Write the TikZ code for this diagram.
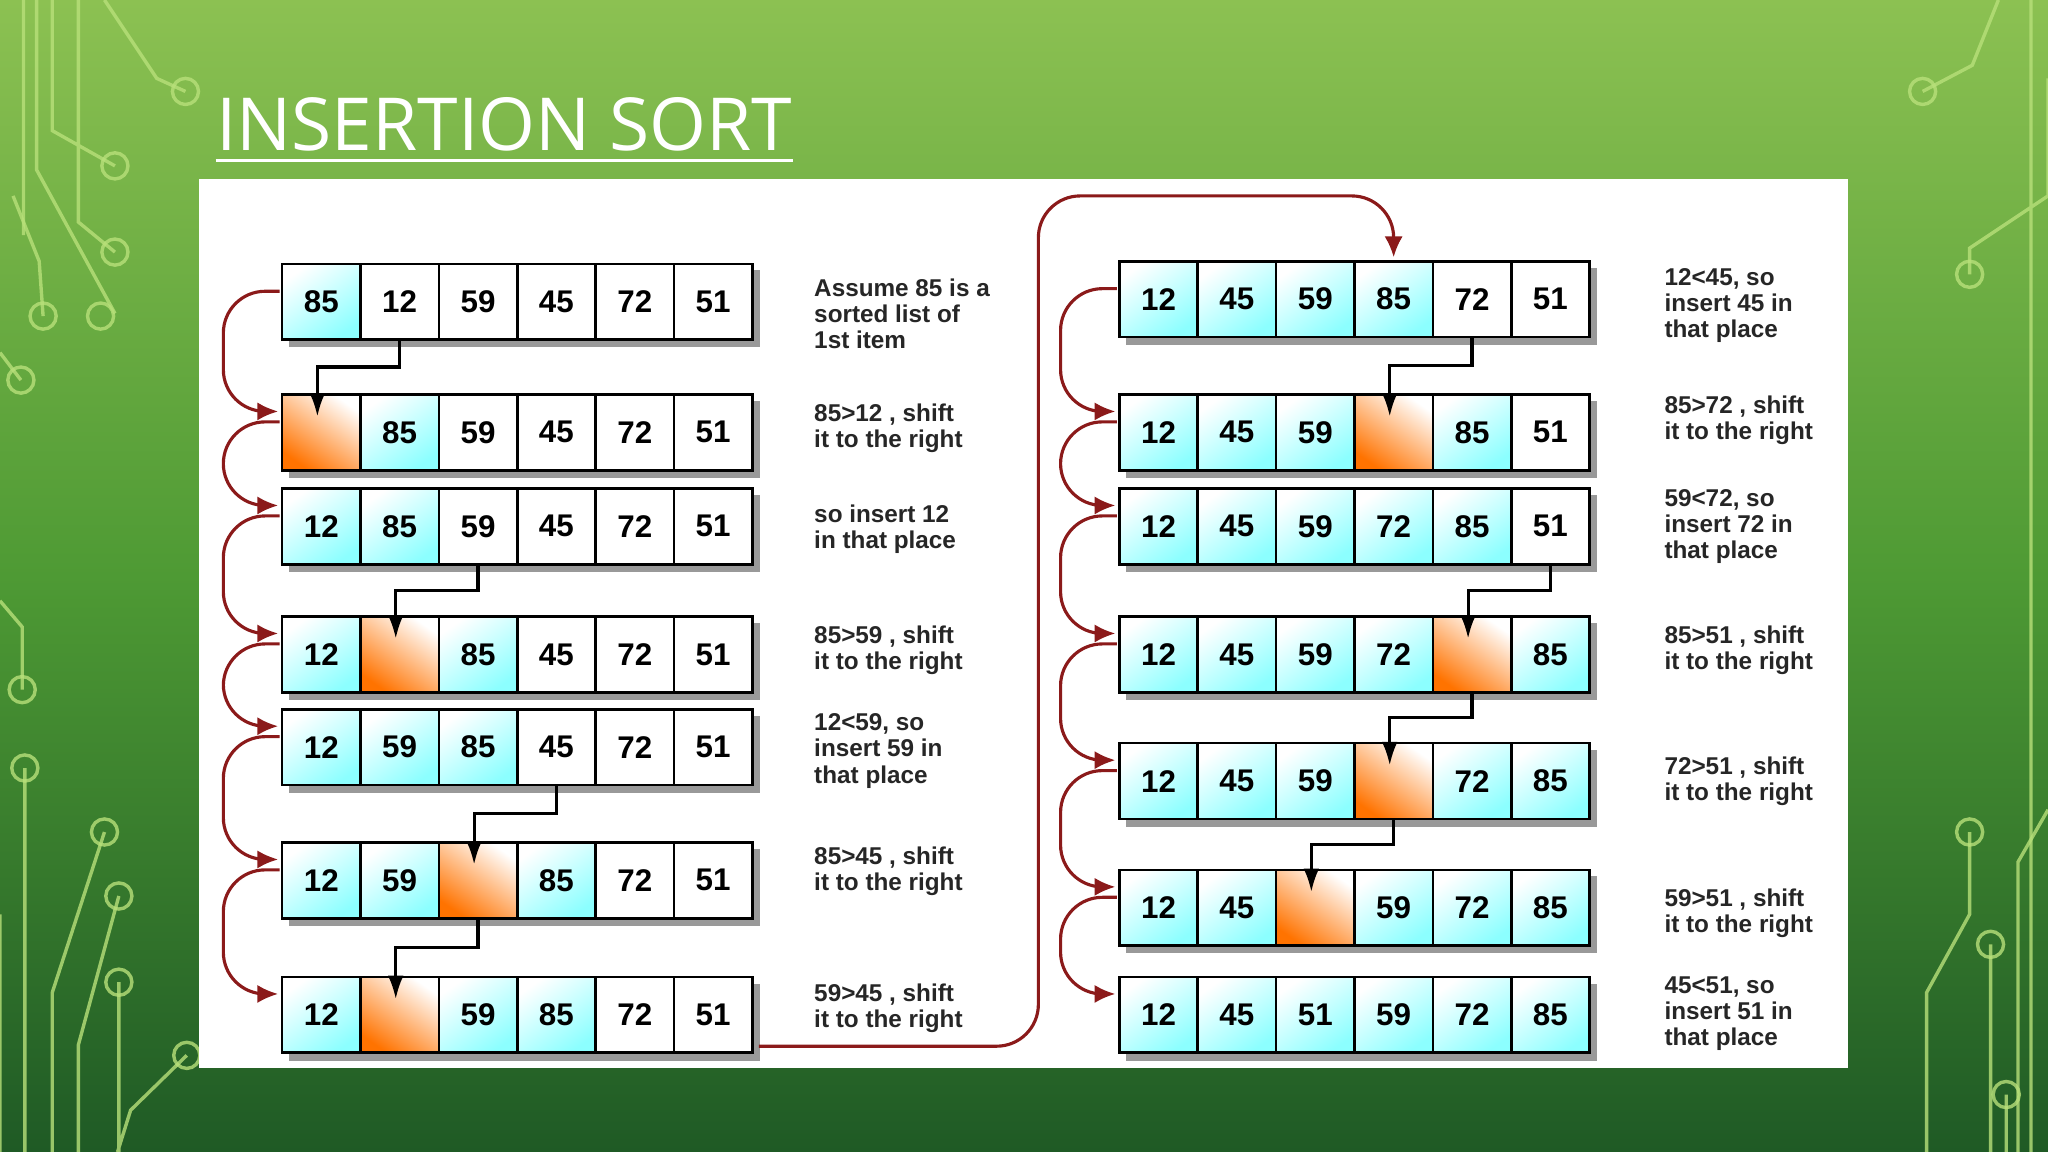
\documentclass[tikz,border=0pt]{standalone}
\usepackage{fontspec}
\setmainfont{Liberation Sans}
\newfontfamily\titlefont{Open Sans}
\usetikzlibrary{calc,arrows.meta}
\definecolor{darkred}{HTML}{8B1A1A}
\definecolor{circ}{HTML}{B8E07A}
\definecolor{bgtop}{HTML}{8CC152}
\definecolor{bgmid}{HTML}{4E9A34}
\definecolor{bgbot}{HTML}{1F5A25}
\tikzset{
  cell/.style={draw=black, line width=1pt, minimum width=30pt, minimum height=29pt, inner sep=0pt, font=\bfseries\fontsize{12}{14}\selectfont},
  w/.style={fill=white},
  c/.style={top color=white, bottom color=cyan!45, shading angle=35},
  h/.style={top color=white, bottom color=orange!90!red, shading angle=-35},
  lbl/.style={anchor=west, align=left, font=\bfseries\fontsize{9.3}{10}\selectfont, text=black!85, inner sep=0pt},
  redarr/.style={draw=darkred, line width=1.2pt, -{Latex[length=8pt,width=7pt]}, rounded corners=16pt},
  blkarr/.style={draw=black, line width=1.2pt, -{Latex[length=9pt,width=6pt]}},
  ckt/.style={draw=circ, line width=1.3pt, opacity=.8},
}
\newcommand\mkrow[4]{%
  \fill[black!40] (#2+5,#3-24) rectangle (#2+366,#3+35);
  \foreach [count=\i] \t/\v in {#4} {\node[cell,\t] (#1-\i) at (#2+30+60*\i-60,#3) {\v};}
}
\begin{document}
\begin{tikzpicture}[x=0.5pt,y=-0.5pt]
\useasboundingbox (0,0) rectangle (1568,882);
\shade[top color=bgtop, bottom color=bgbot, middle color=bgmid] (0,0) rectangle (1568,882);
% circuit lines
\draw[ckt] (18,0) -- (18,180) (28,0) -- (28,130) -- (88,240);
\draw[ckt] (80,0) -- (120,60) -- (142,70) (40,0) -- (40,100) -- (88,127) (10,150) -- (30,200) -- (33,242) (60,0)--(60,170)--(88,193) (0,270)--(16,291);
\draw[ckt] (0,460) -- (17,480) -- (17,528) (19,588) -- (19,882) (80,637) -- (40,760) -- (40,882) (91,686) -- (60,800) -- (60,882) (91,752) -- (91,882) (143,808) -- (100,850) -- (90,882) (0,700)--(0,882);
\foreach \p in {(142,70),(88,127),(88,193),(77,242),(33,242),(16,291),(17,528),(19,588),(80,637),(91,686),(91,752),(143,808)} \draw[ckt,fill=none] \p circle (10);
\draw[ckt] (1530,0) -- (1510,50) -- (1472,70) (1568,60) -- (1568,150) -- (1508,190) -- (1508,210) (1555,0)--(1555,882);
\draw[ckt] (1508,637) -- (1508,700) -- (1475,760) -- (1475,882) (1524,723) -- (1524,882) (1536,838) -- (1536,882) (1568,620)--(1545,660)--(1545,882);
\foreach \p in {(1472,70),(1508,210),(1508,637),(1524,723),(1536,838)} \draw[ckt,fill=none] \p circle (10);
% title
\node[anchor=base west, inner sep=0pt, text=white, font=\titlefont\fontsize{28}{30}\selectfont] (title) at (165,115) {INSERTION SORT};
\draw[white, line width=1pt] ($(title.base west)+(0,8)$) -- ($(title.base east)+(0,8)$);
% panel
\fill[white] (152,137) rectangle (1415,818);
% left column
\mkrow{La}{216}{231}{c/85,w/12,w/59,w/45,w/72,w/51}
\mkrow{Lb}{216}{331}{h/,c/85,w/59,w/45,w/72,w/51}
\mkrow{Lc}{216}{403}{c/12,c/85,w/59,w/45,w/72,w/51}
\mkrow{Ld}{216}{501}{c/12,h/,c/85,w/45,w/72,w/51}
\mkrow{Le}{216}{572}{c/12,c/59,c/85,w/45,w/72,w/51}
\mkrow{Lf}{216}{674}{c/12,c/59,h/,c/85,w/72,w/51}
\mkrow{Lg}{216}{777}{c/12,h/,c/59,c/85,w/72,w/51}
% right column
\mkrow{Ra}{857}{229}{c/12,c/45,c/59,c/85,w/72,w/51}
\mkrow{Rb}{857}{331}{c/12,c/45,c/59,h/,c/85,w/51}
\mkrow{Rc}{857}{403}{c/12,c/45,c/59,c/72,c/85,w/51}
\mkrow{Rd}{857}{501}{c/12,c/45,c/59,c/72,h/,c/85}
\mkrow{Re}{857}{598}{c/12,c/45,c/59,h/,c/72,c/85}
\mkrow{Rf}{857}{695}{c/12,c/45,h/,c/59,c/72,c/85}
\mkrow{Rg}{857}{777}{c/12,c/45,c/51,c/59,c/72,c/85}
% black arrows
\newcommand\blk[2]{\draw[blkarr] (#1.south) |- ($(#1.south)!.5!(#2.north)$) -| ($(#2.north)+(-3,18)$);}
\blk{La-2}{Lb-1}
\blk{Lc-3}{Ld-2}
\blk{Le-4}{Lf-3}
\blk{Lf-3}{Lg-2}
\blk{Ra-5}{Rb-4}
\blk{Rc-6}{Rd-5}
\blk{Rd-5}{Re-4}
\blk{Re-4}{Rf-3}
% red arrows
\newcommand\rdd[2]{\draw[redarr] ($(#1.west)+(-1,-8)$) -| ($(#2.west)+(-44,-16)$) -- ($(#2.west)+(-2,-16)$);}
\rdd{La-1}{Lb-1}\rdd{Lb-1}{Lc-1}\rdd{Lc-1}{Ld-1}\rdd{Ld-1}{Le-1}\rdd{Le-1}{Lf-1}\rdd{Lf-1}{Lg-1}
\rdd{Ra-1}{Rb-1}\rdd{Rb-1}{Rc-1}\rdd{Rc-1}{Rd-1}\rdd{Rd-1}{Re-1}\rdd{Re-1}{Rf-1}\rdd{Rf-1}{Rg-1}
\coordinate (turn) at (795,150);
\draw[redarr] ($(Lg-6.south east)+(4,-6)$) -| (turn) -| ($(Ra-4.north)+(0,-2)$);
% labels
\node[lbl] (t1) at (623,240) {Assume 85 is a\\sorted list of\\1st item};
\node[lbl] (t2) at (623,328) {85>12 , shift\\it to the right};
\node[lbl] (t3) at (623,405) {so insert 12\\in that place};
\node[lbl] (t4) at (623,498) {85>59 , shift\\it to the right};
\node[lbl] (t5) at (623,575) {12<59, so\\insert 59 in\\that place};
\node[lbl] (t6) at (623,667) {85>45 , shift\\it to the right};
\node[lbl] (t7) at (623,772) {59>45 , shift\\it to the right};
\node[lbl] (u1) at (1274,234) {12<45, so\\insert 45 in\\that place};
\node[lbl] (u2) at (1274,322) {85>72 , shift\\it to the right};
\node[lbl] (u3) at (1274,403) {59<72, so\\insert 72 in\\that place};
\node[lbl] (u4) at (1274,498) {85>51 , shift\\it to the right};
\node[lbl] (u5) at (1274,598) {72>51 , shift\\it to the right};
\node[lbl] (u6) at (1274,699) {59>51 , shift\\it to the right};
\node[lbl] (u7) at (1274,776) {45<51, so\\insert 51 in\\that place};
\end{tikzpicture}
\end{document}
